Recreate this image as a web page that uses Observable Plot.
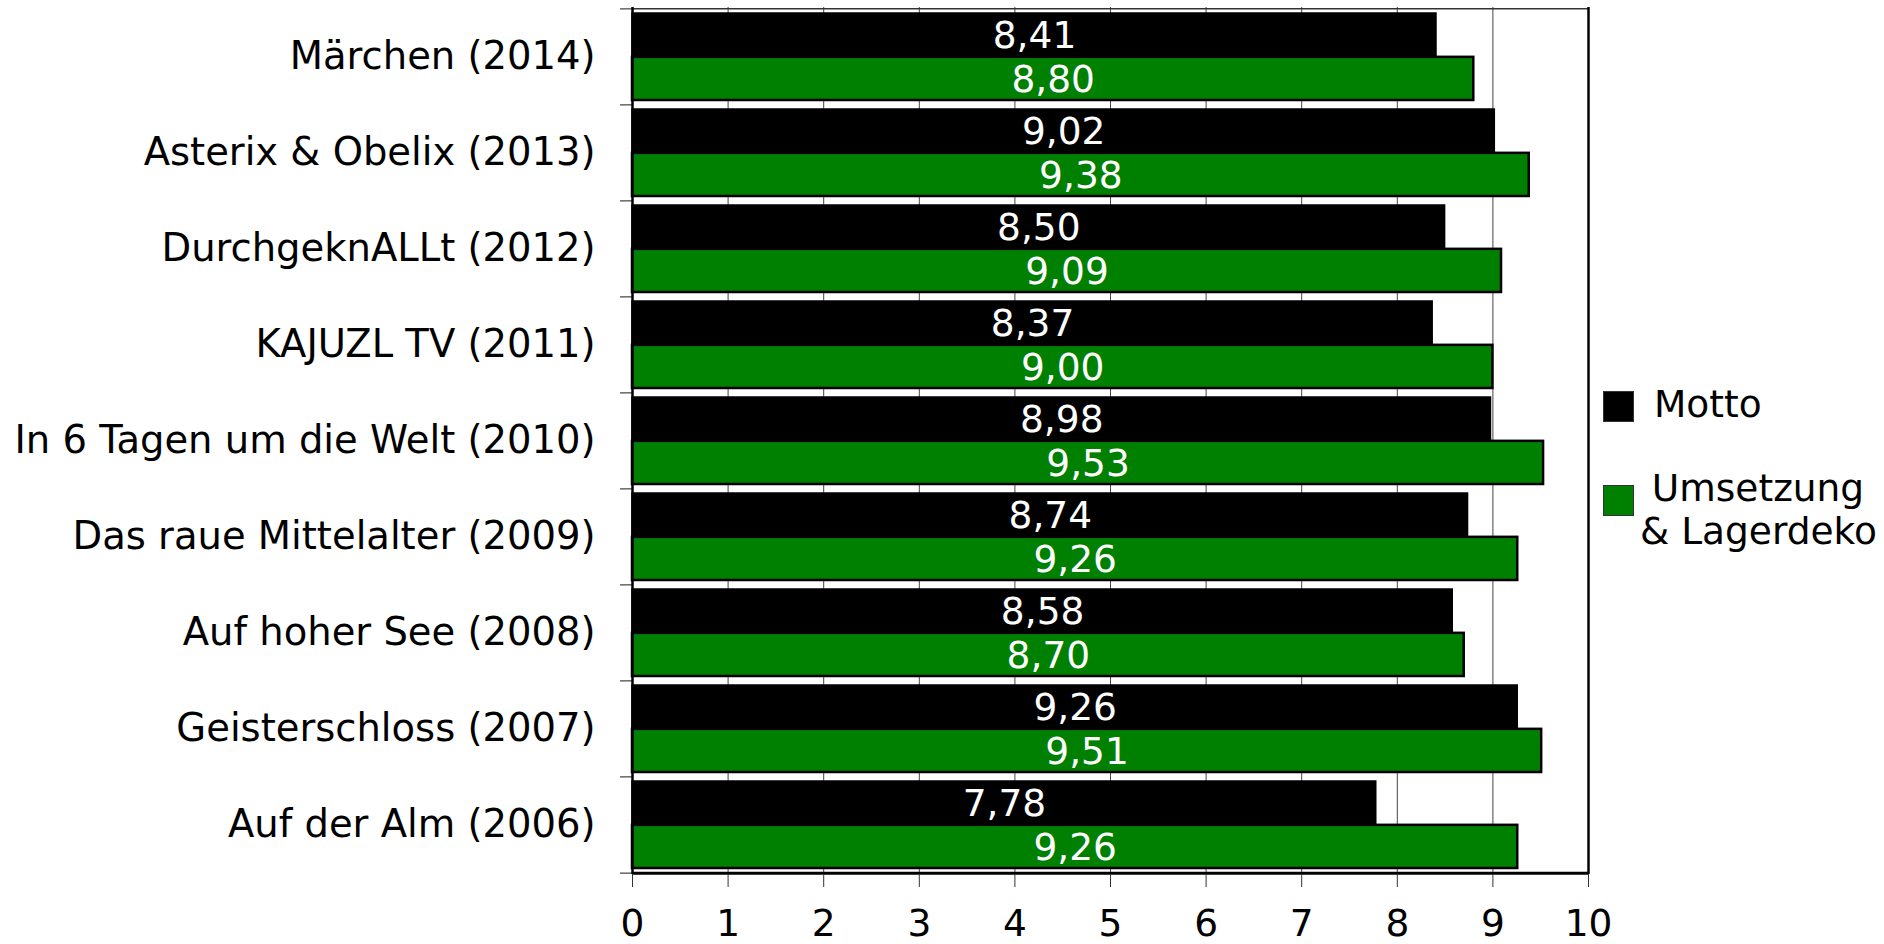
<!DOCTYPE html>
<html>
<head>
<meta charset="utf-8">
<script src="https://cdn.jsdelivr.net/npm/d3@7"></script>
<script src="https://cdn.jsdelivr.net/npm/@observablehq/plot@0.6"></script>
<style>
  html, body { margin: 0; padding: 0; background: #fff; }
  #chart { position: relative; width: 1884px; height: 944px; font-family: "DejaVu Sans", Verdana, sans-serif; }
  .legend-item { position: absolute; font-size: 37.5px; line-height: 43px; color: #000; white-space: nowrap; }
  .swatch { position: absolute; width: 29px; height: 29px; border: 1px solid #333; }
</style>
</head>
<body>
<div id="chart"></div>
<script>
// ---- data ----
const categories = [
  "Märchen (2014)",
  "Asterix & Obelix (2013)",
  "DurchgeknALLt (2012)",
  "KAJUZL TV (2011)",
  "In 6 Tagen um die Welt (2010)",
  "Das raue Mittelalter (2009)",
  "Auf hoher See (2008)",
  "Geisterschloss (2007)",
  "Auf der Alm (2006)"
];
const seriesNames = ["Motto", "Umsetzung\n& Lagerdeko"];
const mottoValues = [8.41, 9.02, 8.50, 8.37, 8.98, 8.74, 8.58, 9.26, 7.78];
const umsetzungValues = [8.80, 9.38, 9.09, 9.00, 9.53, 9.26, 8.70, 9.51, 9.26];
const seriesColors = ["#000000", "#008000"];
const xTicks = [0, 1, 2, 3, 4, 5, 6, 7, 8, 9, 10];

// ---- layout ----
const W = 1884, H = 944;
const mL = 632, mR = 296, mT = 7, mB = 70;
const padInner = 0.09, padOuter = 0.045;
const n = categories.length;
const step = (H - mT - mB) / (n - padInner + 2 * padOuter);
const bw = step * (1 - padInner);
const fontSize = 37.5;

const fmt = v => v.toFixed(2).replace(".", ",");
const mottoRows = categories.map((c, i) => ({category: c, value: mottoValues[i], label: fmt(mottoValues[i])}));
const umsRows = categories.map((c, i) => ({category: c, value: umsetzungValues[i], label: fmt(umsetzungValues[i])}));

const plot = Plot.plot({
  width: W,
  height: H,
  marginLeft: mL,
  marginRight: mR,
  marginTop: mT,
  marginBottom: mB,
  style: {fontFamily: '"DejaVu Sans", Verdana, sans-serif', fontSize: fontSize + "px", background: "#fff", color: "#000"},
  x: {domain: [0, 10], label: null},
  y: {domain: categories, paddingInner: padInner, paddingOuter: padOuter, label: null},
  marks: [
    Plot.gridX(xTicks.slice(1, -1), {stroke: "#444", strokeOpacity: 1, strokeWidth: 1}),
    // top frame line
    Plot.ruleY([categories[0]], {dy: -step / 2, stroke: "#333", strokeWidth: 1.5}),
    // left ticks at band boundaries
    Plot.ruleY(categories, {x1: 0, x2: 0, insetLeft: -12, dy: -step / 2, stroke: "#666", strokeWidth: 1.5}),
    Plot.ruleY([categories[n - 1]], {x1: 0, x2: 0, insetLeft: -12, dy: step / 2, stroke: "#666", strokeWidth: 1.5}),
    // bars
    Plot.barX(mottoRows, {y: "category", x: "value", fill: seriesColors[0], stroke: "#000", strokeWidth: 1.5, insetBottom: bw / 2}),
    Plot.barX(umsRows, {y: "category", x: "value", fill: seriesColors[1], stroke: "#000", strokeWidth: 2.5, insetTop: bw / 2}),
    // value labels
    Plot.text(mottoRows, {y: "category", x: d => d.value / 2, text: "label", fill: "#fff", dy: -bw / 4 + 1, fontSize: fontSize}),
    Plot.text(umsRows, {y: "category", x: d => d.value / 2, text: "label", fill: "#fff", dy: bw / 4 + 1, fontSize: fontSize}),
    // frame lines
    Plot.ruleX([0], {stroke: "#000", strokeWidth: 2.5}),
    Plot.ruleX([10], {stroke: "#000", strokeWidth: 2.5}),
    Plot.ruleY([categories[n - 1]], {dy: step / 2, stroke: "#000", strokeWidth: 3}),
    // axes
    Plot.axisY({tickSize: 0, tickPadding: 37, fontSize: 38.5, label: null}),
    Plot.axisX({ticks: xTicks, tickSize: 13, tickPadding: 22, fontSize: fontSize, stroke: "#333", label: null})
  ]
});

const chart = document.getElementById("chart");
chart.appendChild(plot);

// ---- legend (HTML, to the right of the plot) ----
function addLegend(name, color, swatchTop, textTop, textLeft, center) {
  const sw = document.createElement("div");
  sw.className = "swatch";
  sw.style.left = "1603px";
  sw.style.top = swatchTop + "px";
  sw.style.background = color;
  chart.appendChild(sw);
  const t = document.createElement("div");
  t.className = "legend-item";
  t.style.top = textTop + "px";
  if (center) {
    t.style.left = "1640px";
    t.style.width = "236px";
    t.style.textAlign = "center";
  } else {
    t.style.left = textLeft + "px";
  }
  name.split("\n").forEach((line, i) => {
    const d = document.createElement("div");
    d.textContent = line;
    t.appendChild(d);
  });
  chart.appendChild(t);
}
addLegend(seriesNames[0], seriesColors[0], 391, 383, 1654, false);
addLegend(seriesNames[1], seriesColors[1], 485, 467, 1640, true);
</script>
</body>
</html>
